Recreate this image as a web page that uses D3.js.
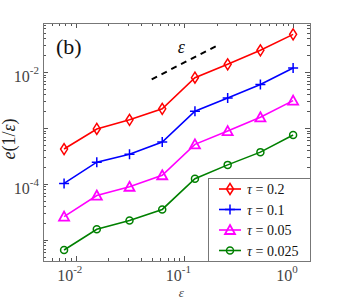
<!DOCTYPE html>
<html>
<head>
<meta charset="utf-8">
<script src="https://cdn.jsdelivr.net/npm/d3@7"></script>
<style>
    body { margin: 0; background: #fff; }
    svg { display: block; }
    .tick-label { font-family: "Liberation Serif", serif; font-size: 16px; fill: #444; }
</style>
</head>
<body>
<div id="chart"></div>
<script>
const WIDTH = 343;
const HEIGHT = 300;
const MARGIN = {top: 23, right: 33, bottom: 39, left: 43};

// epsilon values, halving each step
const epsValues = [0.0078125, 0.015625, 0.03125, 0.0625, 0.125, 0.25, 0.5, 1];

const errTau02 = [4.2e-4, 9.6e-4, 1.4e-3, 2.2e-3, 7.9e-3, 1.37e-2, 2.44e-2, 4.7e-2];
const errTau01 = [1.02e-4, 2.45e-4, 3.4e-4, 5.6e-4, 1.99e-3, 3.43e-3, 6.0e-3, 1.18e-2];
const errTau005 = [2.6e-5, 6.2e-5, 8.9e-5, 1.43e-4, 5.1e-4, 8.8e-4, 1.55e-3, 3.08e-3];
const errTau0025 = [6.6e-6, 1.55e-5, 2.22e-5, 3.5e-5, 1.24e-4, 2.19e-4, 3.7e-4, 7.5e-4];

const seriesNames = ['\u03C4 = 0.2', '\u03C4 = 0.1', '\u03C4 = 0.05', '\u03C4 = 0.025'];

// reference slope line (order 1)
const refEps = [0.05, 0.2];
const refErr = [7.4e-3, 2.96e-2];

const xTickValues = [0.01, 0.1, 1];
const xTickExps = ['-2', '-1', '0'];
const yTickValues = [1e-2, 1e-4];
const yTickExps = ['-2', '-4'];

const series = [
    {name: seriesNames[0], values: errTau02, color: '#ff0000', marker: 'diamond'},
    {name: seriesNames[1], values: errTau01, color: '#0000ff', marker: 'plus'},
    {name: seriesNames[2], values: errTau005, color: '#ff00ff', marker: 'triangle'},
    {name: seriesNames[3], values: errTau0025, color: '#008000', marker: 'circle'}
];

const innerW = WIDTH - MARGIN.left - MARGIN.right;
const innerH = HEIGHT - MARGIN.top - MARGIN.bottom;

const x = d3.scaleLog().domain([0.005, 1.43]).range([0, innerW]);
const y = d3.scaleLog().domain([4.2e-6, 0.075]).range([innerH, 0]);

const svg = d3.select('#chart').append('svg')
    .attr('width', WIDTH)
    .attr('height', HEIGHT);

const g = svg.append('g').attr('transform', `translate(${MARGIN.left},${MARGIN.top})`);

// minor/major tick lists in the visible range
function logTicks(scale){
    const [lo, hi] = scale.domain();
    const out = [];
    for(let e = Math.floor(Math.log10(lo)); e <= Math.ceil(Math.log10(hi)); e++){
        for(let m = 1; m < 10; m++){
            const v = m * Math.pow(10, e);
            if(v >= lo && v <= hi) out.push({v, major: m === 1});
        }
    }
    return out;
}

const tickColor = '#555';
const ticks = g.append('g').attr('stroke', tickColor).attr('stroke-width', 1);

logTicks(x).forEach(t => {
    const px = Math.round(x(t.v)) + 0.5;
    const len = t.major ? 5 : 3;
    ticks.append('line').attr('x1', px).attr('x2', px).attr('y1', innerH).attr('y2', innerH - len);
    ticks.append('line').attr('x1', px).attr('x2', px).attr('y1', 0).attr('y2', len);
});
logTicks(y).forEach(t => {
    const py = Math.round(y(t.v)) + 0.5;
    const len = t.major ? 5 : 3;
    ticks.append('line').attr('x1', 0).attr('x2', len).attr('y1', py).attr('y2', py);
    ticks.append('line').attr('x1', innerW).attr('x2', innerW - len).attr('y1', py).attr('y2', py);
});

// frame
g.append('rect')
    .attr('x', 0.5).attr('y', 0.5)
    .attr('width', innerW).attr('height', innerH)
    .attr('fill', 'none')
    .attr('stroke', '#777')
    .attr('stroke-width', 1);

// tick labels with superscript exponents
xTickValues.forEach((v, i) => {
    const t = g.append('text')
        .attr('class', 'tick-label')
        .attr('x', x(v) - 6)
        .attr('y', innerH + 20)
        .attr('text-anchor', 'middle');
    t.append('tspan').text('10');
    t.append('tspan').attr('dy', -8).attr('font-size', 11).text(xTickExps[i]);
});
yTickValues.forEach((v, i) => {
    const t = g.append('text')
        .attr('class', 'tick-label')
        .attr('x', -4)
        .attr('y', y(v) + 10)
        .attr('text-anchor', 'end');
    t.append('tspan').text('10');
    t.append('tspan').attr('dy', -8).attr('font-size', 11).text(yTickExps[i]);
});

// axis titles
svg.append('text')
    .attr('x', MARGIN.left + x(0.1) - 3)
    .attr('y', 296.5)
    .attr('text-anchor', 'middle')
    .attr('font-family', 'Liberation Serif, serif')
    .attr('font-style', 'italic')
    .attr('font-size', 13)
    .attr('fill', '#444')
    .text('\u03B5');

svg.append('text')
    .attr('transform', `translate(15,${MARGIN.top + 116}) rotate(-90)`)
    .attr('text-anchor', 'middle')
    .attr('font-family', 'Liberation Serif, serif')
    .attr('font-size', 18)
    .attr('fill', '#222')
    .html('<tspan font-style="italic">e</tspan>(1/<tspan font-style="italic">\u03B5</tspan>)');

// panel tag
g.append('text')
    .attr('x', 13)
    .attr('y', 31)
    .attr('font-family', 'Liberation Serif, serif')
    .attr('font-size', 22)
    .attr('fill', '#111')
    .text('(b)');

// reference slope
const line = d3.line().x(d => x(d[0])).y(d => y(d[1]));
g.append('path')
    .datum(d3.zip(refEps, refErr))
    .attr('d', line)
    .attr('fill', 'none')
    .attr('stroke', '#000')
    .attr('stroke-width', 2)
    .attr('stroke-dasharray', '6,5');
g.append('text')
    .attr('x', x(0.1) - 3)
    .attr('y', y(0.022))
    .attr('text-anchor', 'middle')
    .attr('font-family', 'Liberation Serif, serif')
    .attr('font-style', 'italic')
    .attr('font-size', 18)
    .attr('fill', '#111')
    .text('\u03B5');

function drawMarker(sel, type, color){
    if(type === 'diamond'){
        sel.append('path').attr('d', 'M0,-5.5L3.5,0L0,5.5L-3.5,0Z')
            .attr('fill', 'none').attr('stroke', color).attr('stroke-width', 1.5);
    } else if(type === 'plus'){
        sel.append('path').attr('d', 'M-5,0H5M0,-5V5')
            .attr('fill', 'none').attr('stroke', color).attr('stroke-width', 1.5);
    } else if(type === 'triangle'){
        sel.append('path').attr('d', 'M0,-5L5,4H-5Z')
            .attr('fill', 'none').attr('stroke', color).attr('stroke-width', 1.8);
    } else {
        sel.append('circle').attr('r', 3.5)
            .attr('fill', 'none').attr('stroke', color).attr('stroke-width', 1.5);
    }
}

series.forEach(s => {
    const pts = d3.zip(epsValues, s.values);
    g.append('path')
        .datum(pts)
        .attr('d', line)
        .attr('fill', 'none')
        .attr('stroke', s.color)
        .attr('stroke-width', 1.6);
    pts.forEach(p => {
        const m = g.append('g').attr('transform', `translate(${x(p[0])},${y(p[1])})`);
        drawMarker(m, s.marker, s.color);
    });
});

// legend
const legend = svg.append('g').attr('transform', 'translate(208,178)');
legend.append('rect')
    .attr('x', 0.5).attr('y', 0.5)
    .attr('width', 102).attr('height', 83)
    .attr('fill', '#fff')
    .attr('stroke', '#777');

series.forEach((s, i) => {
    const row = legend.append('g').attr('transform', `translate(0,${11 + i * 20.5})`);
    row.append('line')
        .attr('x1', 11).attr('x2', 33)
        .attr('stroke', s.color).attr('stroke-width', 1.6);
    const m = row.append('g').attr('transform', 'translate(22,0)');
    drawMarker(m, s.marker, s.color);
    row.append('text')
        .attr('x', 39)
        .attr('y', 5)
        .attr('font-family', 'Liberation Serif, serif')
        .attr('font-size', 14)
        .attr('fill', '#111')
        .html(`<tspan font-style="italic">\u03C4</tspan> ${s.name.slice(2)}`);
});
</script>
</body>
</html>
